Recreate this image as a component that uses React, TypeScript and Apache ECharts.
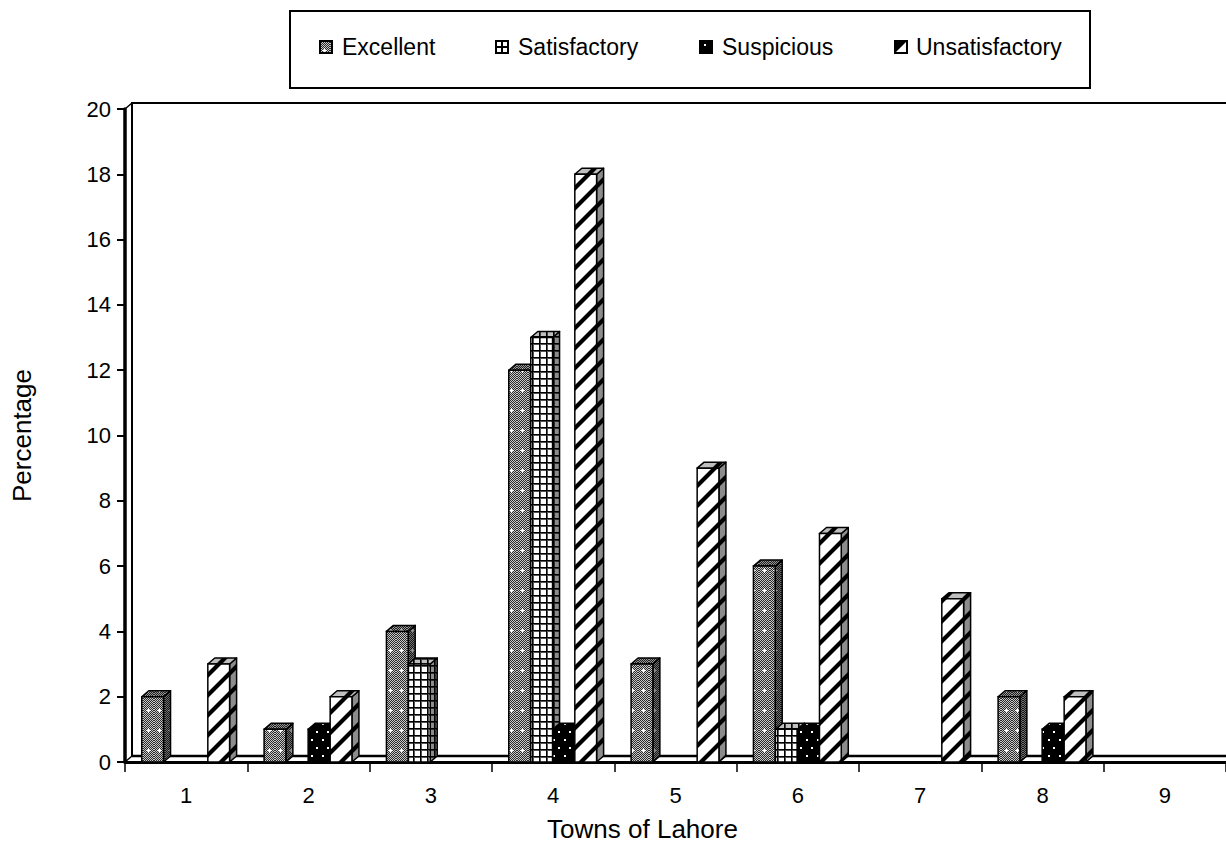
import React, { useEffect, useRef } from "react";
import * as echarts from "echarts";

const towns = ["1", "2", "3", "4", "5", "6", "7", "8", "9"];
const seriesNames = ["Excellent", "Satisfactory", "Suspicious", "Unsatisfactory"];
const excellent = [2, 1, 4, 12, 3, 6, 0, 2, 0];
const satisfactory = [0, 0, 3, 13, 0, 1, 0, 0, 0];
const suspicious = [0, 1, 0, 1, 0, 1, 0, 1, 0];
const unsatisfactory = [3, 2, 0, 18, 9, 7, 5, 2, 0];
const seriesValues = [excellent, satisfactory, suspicious, unsatisfactory];
const yMin = 0;
const yMax = 20;
const yInterval = 2;

const FONT = "'Liberation Sans', Arial, Helvetica, sans-serif";
const GL = 125;
const GT = 109;
const GW = 1105;
const GH = 653;
const DX = 7;
const DY = 6;

function makeTile(w: number, h: number, pix: (x: number, y: number) => string) {
  const c = document.createElement("canvas");
  c.width = w;
  c.height = h;
  const ctx = c.getContext("2d")!;
  for (let y = 0; y < h; y++) {
    for (let x = 0; x < w; x++) {
      ctx.fillStyle = pix(x, y);
      ctx.fillRect(x, y, 1, 1);
    }
  }
  return { image: c.toDataURL(), imageWidth: w, imageHeight: h, repeat: "repeat" } as any;
}

function buildPatterns() {
  const exc = makeTile(11, 20, (x, y) => {
    const plus =
      (x === 5 && y >= 8 && y <= 12) || (y === 10 && x >= 3 && x <= 7);
    if (plus) return "#ffffff";
    return (x + y) % 2 === 0 ? "#2a2a2a" : "#c8c8c8";
  });
  const sat = makeTile(7, 7, (x, y) => {
    if (x === 0 || y === 0) return "#000000";
    if (x === 1 || y === 1) return "#555555";
    return "#ffffff";
  });
  const sus = makeTile(11, 16, (x, y) => {
    if ((x >= 3 && x <= 4 && y >= 3 && y <= 4) || (x >= 8 && x <= 9 && y >= 11 && y <= 12))
      return "#ffffff";
    return "#000000";
  });
  const uns = makeTile(20, 20, (x, y) => {
    const d = (x + y) % 20;
    if (d < 5) return "#000000";
    if (d === 5 || d === 19) return "#888888";
    return "#ffffff";
  });
  return [exc, sat, sus, uns];
}

export default function App() {
  const ref = useRef<HTMLDivElement>(null);
  useEffect(() => {
    if (!ref.current) return;
    const chart = echarts.init(ref.current, undefined, { renderer: "svg" });
    const patterns = buildPatterns();

    const makeRender = (si: number) => (params: any, api: any) => {
      const cat = api.value(0);
      const val = api.value(1);
      if (!val) return { type: "group", children: [] };
      const top = api.coord([cat, val]);
      const base = api.coord([cat, 0]);
      const band = api.size([1, 0])[0];
      const w = band * 0.178;
      const x = top[0] - band / 2 + band * 0.137 + si * band * 0.18;
      const yT = top[1];
      const yB = base[1];
      const pat = patterns[si];
      const side = [
        [x + w, yT],
        [x + w + DX, yT - DY],
        [x + w + DX, yB - DY],
        [x + w, yB],
      ];
      const topFace = [
        [x, yT],
        [x + DX, yT - DY],
        [x + w + DX, yT - DY],
        [x + w, yT],
      ];
      return {
        type: "group",
        children: [
          { type: "polygon", shape: { points: side }, style: { fill: pat, stroke: "none" } },
          {
            type: "polygon",
            shape: { points: side },
            style: { fill: "rgba(0,0,0,0.45)", stroke: "#000", lineWidth: 1.5, lineJoin: "round" },
          },
          { type: "polygon", shape: { points: topFace }, style: { fill: pat, stroke: "none" } },
          {
            type: "polygon",
            shape: { points: topFace },
            style: { fill: "rgba(0,0,0,0.25)", stroke: "#000", lineWidth: 1.5, lineJoin: "round" },
          },
          {
            type: "rect",
            shape: { x, y: yT, width: w, height: yB - yT },
            style: { fill: pat, stroke: "#000", lineWidth: 1.5 },
          },
        ],
      };
    };

    const series = seriesNames.map((name, si) => ({
      name,
      type: "custom",
      renderItem: makeRender(si),
      encode: { x: 0, y: 1 },
      data: seriesValues[si].map((v, i) => [i, v]),
      z: 5,
    }));

    const legendItems = [
      { icon: 320, text: 342 },
      { icon: 496, text: 518 },
      { icon: 700, text: 722 },
      { icon: 895, text: 916 },
    ];
    const IS = 12;
    const IY = 41;
    const iconShapes = (i: number, x: number): any[] => {
      const base = { type: "rect", shape: { x, y: IY, width: IS, height: IS }, z: 2 };
      if (i === 0) {
        return [{ ...base, style: { fill: patterns[0], stroke: "#000", lineWidth: 2 } }];
      }
      if (i === 1) {
        return [
          { ...base, style: { fill: "#fff", stroke: "#000", lineWidth: 2 } },
          { type: "line", shape: { x1: x + IS / 2, y1: IY, x2: x + IS / 2, y2: IY + IS }, style: { stroke: "#000", lineWidth: 2 }, z: 3 },
          { type: "line", shape: { x1: x, y1: IY + IS / 2, x2: x + IS, y2: IY + IS / 2 }, style: { stroke: "#000", lineWidth: 2 }, z: 3 },
        ];
      }
      if (i === 2) {
        return [
          { ...base, style: { fill: "#000", stroke: "#000", lineWidth: 2 } },
          { type: "rect", shape: { x: x + 4, y: IY + 3, width: 2, height: 2 }, style: { fill: "#fff" }, z: 3 },
        ];
      }
      return [
        { ...base, style: { fill: "#fff", stroke: "#000", lineWidth: 2 } },
        {
          type: "polygon",
          shape: { points: [[x, IY], [x + IS, IY], [x, IY + IS]] },
          style: { fill: "#000" },
          z: 3,
        },
      ];
    };

    const R = 1240;
    const graphic: any[] = [
      {
        type: "rect",
        shape: { x: 290, y: 11, width: 800, height: 77 },
        style: { fill: "#fff", stroke: "#000", lineWidth: 2 },
        z: 1,
      },
      ...legendItems.flatMap((it, i) => [
        ...iconShapes(i, it.icon),
        {
          type: "text",
          x: it.text,
          y: 47,
          style: {
            text: seriesNames[i],
            font: `23px ${FONT}`,
            fill: "#000",
            textVerticalAlign: "middle",
            textAlign: "left",
          },
          z: 2,
        },
      ]),
      {
        type: "polyline",
        shape: { points: [[GL + DX, GT + GH - DY], [GL + DX, GT - DY], [R, GT - DY]] },
        style: { stroke: "#000", lineWidth: 2, fill: "none" },
        z: 0,
      },
      {
        type: "line",
        shape: { x1: GL + DX, y1: GT + GH - DY, x2: R, y2: GT + GH - DY },
        style: { stroke: "#000", lineWidth: 2.5 },
        z: 0,
      },
      {
        type: "line",
        shape: { x1: GL, y1: GT, x2: GL + DX, y2: GT - DY },
        style: { stroke: "#000", lineWidth: 1.5 },
        z: 0,
      },
      {
        type: "line",
        shape: { x1: GL, y1: GT + GH, x2: GL + DX, y2: GT + GH - DY },
        style: { stroke: "#000", lineWidth: 1.5 },
        z: 0,
      },
    ];

    chart.setOption({
      animation: false,
      backgroundColor: "#fff",
      textStyle: { fontFamily: FONT },
      grid: { left: GL, top: GT, width: GW, height: GH, containLabel: false },
      xAxis: {
        type: "category",
        data: towns,
        boundaryGap: true,
        axisLine: { show: true, lineStyle: { color: "#000", width: 3 } },
        axisTick: { show: true, length: 10, lineStyle: { color: "#000", width: 1.5 } },
        axisLabel: { color: "#000", fontSize: 22, fontFamily: FONT, margin: 22 },
        splitLine: { show: false },
        name: "Towns of Lahore",
        nameLocation: "middle",
        nameGap: 54,
        nameTextStyle: { color: "#000", fontSize: 26, fontFamily: FONT, padding: [0, 66, 0, 0] },
      },
      yAxis: {
        type: "value",
        min: yMin,
        max: yMax,
        interval: yInterval,
        axisLine: { show: true, lineStyle: { color: "#000", width: 3.5 } },
        axisTick: { show: true, length: 8, lineStyle: { color: "#000", width: 2 } },
        axisLabel: { color: "#000", fontSize: 22, fontFamily: FONT, margin: 14 },
        splitLine: { show: false },
        name: "Percentage",
        nameLocation: "middle",
        nameGap: 90,
        nameRotate: 90,
        nameTextStyle: { color: "#000", fontSize: 26, fontFamily: FONT },
      },
      graphic,
      series,
    });
    return () => chart.dispose();
  }, []);
  return <div ref={ref} style={{ width: 1226, height: 849, position: "absolute", left: 0, top: 0 }} />;
}
